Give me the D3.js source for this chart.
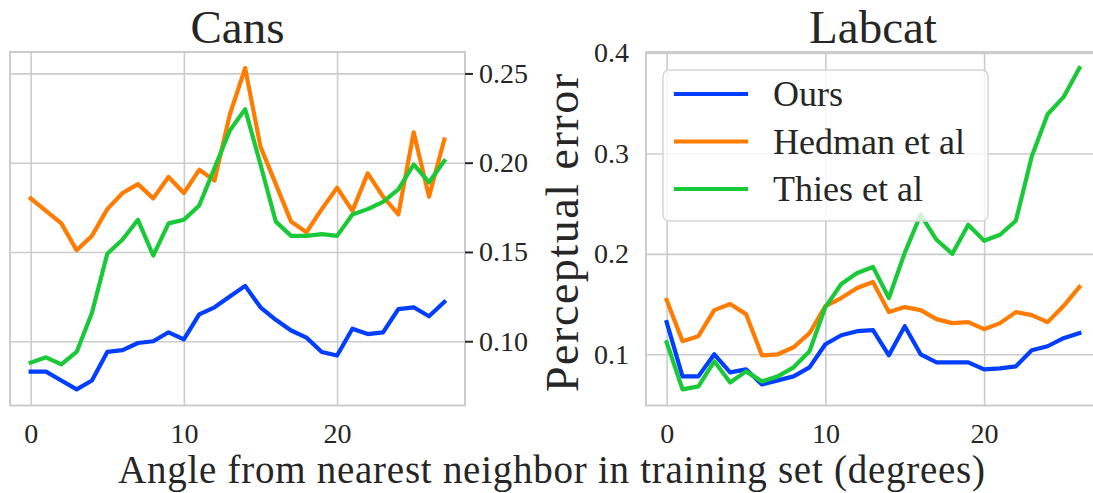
<!DOCTYPE html>
<html>
<head>
<meta charset="utf-8">
<script src="https://cdn.jsdelivr.net/npm/d3@7"></script>
<style>
  body { margin: 0; background: #fff; }
  svg text { font-family: "Liberation Serif", "Times New Roman", serif; fill: #262626; }
</style>
</head>
<body>
<div id="chart"></div>
<script>
// perceptual error vs angle (deg), one value per integer angle starting at 0
var cansOurs   = [0.083, 0.083, 0.078, 0.073, 0.078, 0.094, 0.095, 0.099, 0.100, 0.105, 0.101, 0.115, 0.119, 0.125,
                  0.131, 0.119, 0.112, 0.106, 0.102, 0.094, 0.092, 0.107, 0.104, 0.105, 0.118, 0.119, 0.114, 0.122];
var cansHedman = [0.180, 0.173, 0.166, 0.151, 0.159, 0.174, 0.183, 0.188, 0.180, 0.192, 0.183, 0.196, 0.190, 0.227,
                  0.253, 0.209, 0.188, 0.167, 0.161, 0.174, 0.186, 0.173, 0.194, 0.181, 0.171, 0.217, 0.181, 0.213];
var cansThies  = [0.088, 0.091, 0.087, 0.094, 0.116, 0.149, 0.157, 0.168, 0.148, 0.166, 0.168, 0.176, 0.197, 0.218,
                  0.230, 0.199, 0.167, 0.159, 0.159, 0.160, 0.159, 0.171, 0.174, 0.178, 0.185, 0.199, 0.189, 0.201];

var labcatOurs   = [0.132, 0.078, 0.078, 0.100, 0.082, 0.085, 0.070, 0.074, 0.078, 0.087, 0.110, 0.119, 0.123, 0.124,
                    0.099, 0.128, 0.100, 0.092, 0.092, 0.092, 0.085, 0.086, 0.088, 0.104, 0.108, 0.116, 0.121];
var labcatHedman = [0.154, 0.113, 0.118, 0.144, 0.150, 0.140, 0.099, 0.100, 0.107, 0.121, 0.148, 0.156, 0.166, 0.172,
                    0.142, 0.147, 0.144, 0.135, 0.131, 0.132, 0.125, 0.131, 0.142, 0.139, 0.132, 0.148, 0.167];
var labcatThies  = [0.112, 0.065, 0.068, 0.093, 0.072, 0.083, 0.073, 0.078, 0.087, 0.103, 0.147, 0.170, 0.181, 0.187,
                    0.156, 0.201, 0.239, 0.214, 0.200, 0.229, 0.213, 0.219, 0.233, 0.297, 0.339, 0.356, 0.385];

var seriesNames = ["Ours", "Hedman et al", "Thies et al"];
var colors = ["#023eff", "#ff7c00", "#1ac938"];

var xTicks = [0, 10, 20];
var cansYTicks = [0.10, 0.15, 0.20, 0.25];
var labcatYTicks = [0.1, 0.2, 0.3, 0.4];

var serif = "'Liberation Serif', 'Times New Roman', serif";

var W = 1093, H = 493;
var svg = d3.select("#chart").append("svg")
    .attr("width", W)
    .attr("height", H)
    .attr("font-family", serif);

// matplotlib style 5% padding on the data range
function padded(ext) {
  var p = (ext[1] - ext[0]) * 0.05;
  return [ext[0] - p, ext[1] + p];
}

function panel(opts) {
  var box = opts.box;
  var n = opts.series[0].length;
  var x = d3.scaleLinear().domain(padded([0, n - 1])).range([box.left, box.right]);
  var y = d3.scaleLinear()
      .domain(padded(d3.extent(d3.merge(opts.series))))
      .range([box.bottom, box.top]);

  var g = svg.append("g");

  // grid
  g.append("g")
      .attr("transform", "translate(0," + box.bottom + ")")
      .call(d3.axisBottom(x).tickValues(xTicks).tickSize(-(box.bottom - box.top)).tickFormat(""))
      .call(function(s) { s.select(".domain").remove(); })
      .selectAll("line").attr("stroke", "#cccccc").attr("stroke-width", 1.6);
  g.append("g")
      .attr("transform", "translate(" + box.left + ",0)")
      .call(d3.axisLeft(y).tickValues(opts.yTicks).tickSize(-(box.right - box.left)).tickFormat(""))
      .call(function(s) { s.select(".domain").remove(); })
      .selectAll("line").attr("stroke", "#cccccc").attr("stroke-width", 1.6);

  // frame
  g.append("rect")
      .attr("x", box.left).attr("y", box.top)
      .attr("width", box.right - box.left).attr("height", box.bottom - box.top)
      .attr("fill", "none").attr("stroke", "#cccccc").attr("stroke-width", 2);

  // x tick labels
  var xa = g.append("g")
      .attr("transform", "translate(0," + box.bottom + ")")
      .call(d3.axisBottom(x).tickValues(xTicks).tickSize(0).tickPadding(18))
      .attr("font-family", serif);
  xa.select(".domain").remove();
  xa.selectAll("text")
      .style("font-family", serif)
      .style("font-size", "28px").attr("fill", "#262626")
      .attr("dy", "0.71em");

  // y tick labels
  var ya;
  if (opts.yRight) {
    ya = g.append("g")
        .attr("transform", "translate(" + box.right + ",0)")
        .call(d3.axisRight(y).tickValues(opts.yTicks).tickFormat(d3.format(opts.yFmt))
              .tickSize(8).tickPadding(6));
    ya.selectAll("line").attr("stroke", "#262626").attr("stroke-width", 2);
  } else {
    ya = g.append("g")
        .attr("transform", "translate(" + box.left + ",0)")
        .call(d3.axisLeft(y).tickValues(opts.yTicks).tickFormat(d3.format(opts.yFmt))
              .tickSize(0).tickPadding(17));
  }
  ya.attr("font-family", serif);
  ya.select(".domain").remove();
  ya.selectAll("text")
      .style("font-family", serif)
      .style("font-size", "28px").attr("fill", "#262626");

  // lines
  var line = d3.line()
      .x(function(d, i) { return x(i); })
      .y(function(d) { return y(d); });

  g.selectAll("path.series").data(opts.series).enter()
    .append("path")
      .attr("class", "series")
      .attr("d", line)
      .attr("fill", "none")
      .attr("stroke", function(d, i) { return colors[i]; })
      .attr("stroke-width", 4.2)
      .attr("stroke-linejoin", "round")
      .attr("stroke-linecap", "square");

  // title
  g.append("text")
      .attr("x", (box.left + box.right) / 2)
      .attr("y", 43)
      .attr("text-anchor", "middle")
      .style("font-size", "47px")
      .text(opts.title);

  return {g: g, x: x, y: y};
}

var cans = panel({
  box: {left: 10, right: 465, top: 52, bottom: 405.5},
  series: [cansOurs, cansHedman, cansThies],
  yTicks: cansYTicks, yFmt: ".2f", yRight: true,
  title: "Cans"
});

var labcat = panel({
  box: {left: 646, right: 1100, top: 52, bottom: 405.5},
  series: [labcatOurs, labcatHedman, labcatThies],
  yTicks: labcatYTicks, yFmt: ".1f", yRight: false,
  title: "Labcat"
});

// legend on the Labcat panel
var leg = svg.append("g");
leg.append("rect")
    .attr("x", 663).attr("y", 70)
    .attr("width", 325).attr("height", 151)
    .attr("rx", 6)
    .attr("fill", "#ffffff").attr("fill-opacity", 0.8)
    .attr("stroke", "#d6d6d6").attr("stroke-width", 1.5);

var rows = leg.selectAll("g.row").data(seriesNames).enter()
  .append("g")
    .attr("class", "row")
    .attr("transform", function(d, i) { return "translate(0," + (94 + i * 47.5) + ")"; });
rows.append("line")
    .attr("x1", 676).attr("x2", 746)
    .attr("stroke", function(d, i) { return colors[i]; })
    .attr("stroke-width", 4.2)
    .attr("stroke-linecap", "square");
rows.append("text")
    .attr("x", 773)
    .attr("y", 12)
    .style("font-size", "36px")
    .text(function(d) { return d; });

// axis labels
svg.append("text")
    .attr("transform", "translate(578,233) rotate(-90)")
    .attr("text-anchor", "middle")
    .attr("textLength", 318)
    .attr("lengthAdjust", "spacing")
    .style("font-size", "46px")
    .text("Perceptual error");

svg.append("text")
    .attr("x", 551.5)
    .attr("y", 483)
    .attr("text-anchor", "middle")
    .attr("textLength", 867)
    .attr("lengthAdjust", "spacing")
    .style("font-size", "39px")
    .text("Angle from nearest neighbor in training set (degrees)");
</script>
</body>
</html>
